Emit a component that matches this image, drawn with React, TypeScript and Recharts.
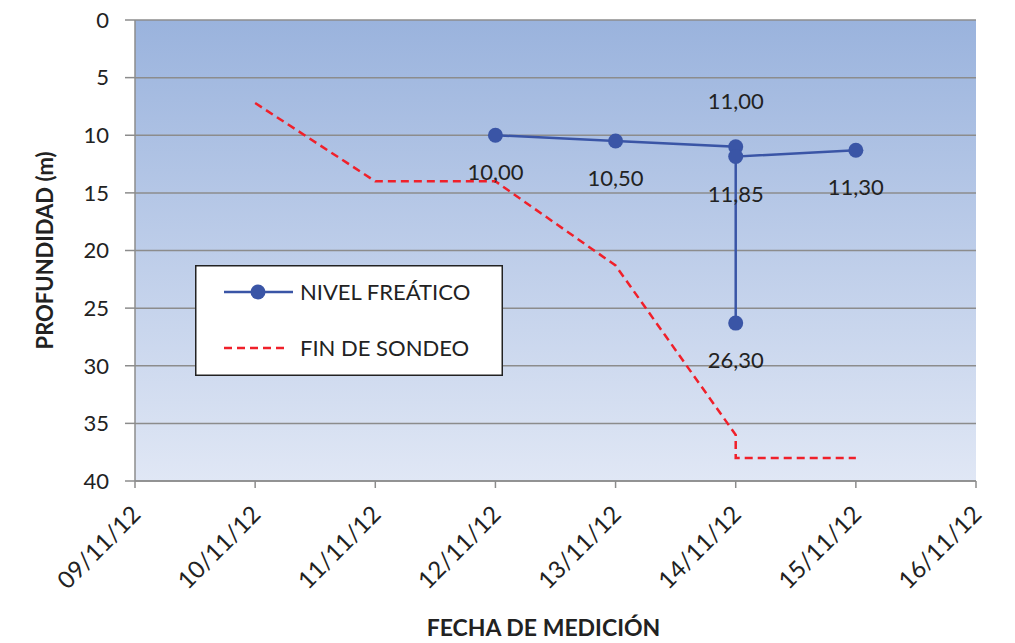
import React from 'react';
import { LineChart, Line, XAxis, YAxis, CartesianGrid, Legend, Label } from 'recharts';

// días de noviembre 2012
const diasEje = [9, 10, 11, 12, 13, 14, 15, 16];
const profundidadTicks = [0, 5, 10, 15, 20, 25, 30, 35, 40];

const fechaNivel = [12, 13, 14, 14, 14, 15];
const nivelFreatico = [10.0, 10.5, 11.0, 26.3, 11.85, 11.3];

const fechaSondeo = [10, 11, 12, 13, 14, 14, 15];
const finSondeo = [7.2, 14.0, 14.0, 21.3, 36.0, 38.0, 38.0];

const nivelData = fechaNivel.map((f, i) => ({ fecha: f, nivel: nivelFreatico[i] }));
const sondeoData = fechaSondeo.map((f, i) => ({ fecha: f, sondeo: finSondeo[i] }));

const FONT = 'Lato, "DejaVu Sans", sans-serif';
const AZUL = '#3A55A6';
const ROJO = '#F0202A';
const GRIS = '#8C8C8C';

const fmtFecha = (d: number) => `${String(d).padStart(2, '0')}/11/12`;

const XTick = (props: any) => {
    const { x, y, payload } = props;
    const ax = x + 7;
    const ay = y + 24;
    return (
        <text
            x={ax}
            y={ay}
            transform={`rotate(-45, ${ax}, ${ay})`}
            textAnchor="end"
            fontSize={24}
            fontFamily={FONT}
            fill="#222"
        >
            {fmtFecha(payload.value)}
        </text>
    );
};

const NivelLabel = (props: any) => {
    const { x, y, value, index } = props;
    const arriba = index === 2;
    return (
        <text
            x={x}
            y={arriba ? y - 38 : y + 45}
            textAnchor="middle"
            fontSize={22}
            fontFamily={FONT}
            fill="#222"
        >
            {Number(value).toFixed(2).replace('.', ',')}
        </text>
    );
};

const Leyenda = () => (
    <svg width={308} height={111} style={{ display: 'block' }}>
        <rect x={0.75} y={0.75} width={306.5} height={109.5} fill="#fff" stroke="#222" strokeWidth={1.5} />
        <line x1={29} y1={27} x2={98} y2={27} stroke={AZUL} strokeWidth={2.5} />
        <circle cx={63} cy={27} r={7.5} fill={AZUL} />
        <text x={105} y={35} fontSize={22} fontFamily={FONT} fill="#222">NIVEL FREÁTICO</text>
        <line x1={29} y1={83} x2={94} y2={83} stroke={ROJO} strokeWidth={2.5} strokeDasharray="8 5" />
        <text x={105} y={91} fontSize={22} fontFamily={FONT} fill="#222">FIN DE SONDEO</text>
    </svg>
);

const App: React.FC = () => {
    return (
        <div style={{ width: 1000, height: 635, fontFamily: FONT }}>
            <LineChart width={1000} height={635} margin={{ top: 12, right: 32, left: 0, bottom: 0 }}>
                <defs>
                    <linearGradient id="fondo" x1="0" y1="0" x2="0" y2="1">
                        <stop offset="0%" stopColor="#9AB3DD" />
                        <stop offset="100%" stopColor="#E0E7F5" />
                    </linearGradient>
                </defs>
                <CartesianGrid vertical={false} stroke={GRIS} strokeWidth={1.5} fill="url(#fondo)" fillOpacity={1} />
                <XAxis
                    type="number"
                    dataKey="fecha"
                    domain={[9, 16]}
                    ticks={diasEje}
                    interval={0}
                    height={162}
                    tick={<XTick />}
                    tickSize={7}
                    tickMargin={4}
                    stroke={GRIS}
                    axisLine={{ stroke: GRIS, strokeWidth: 1.5 }}
                    tickLine={{ stroke: GRIS, strokeWidth: 1.5 }}
                >
                    <Label
                        value="FECHA DE MEDICIÓN"
                        position="insideBottom"
                        offset={7}
                        dx={-12}
                        style={{ fontSize: 23, fontWeight: 700, fontFamily: FONT, fill: '#222' }}
                    />
                </XAxis>
                <YAxis
                    type="number"
                    reversed
                    domain={[0, 40]}
                    ticks={profundidadTicks}
                    interval={0}
                    width={127}
                    tickSize={10}
                    tickMargin={16}
                    tick={{ fontSize: 22, fontFamily: FONT, fill: '#222' }}
                    axisLine={{ stroke: GRIS, strokeWidth: 1.5 }}
                    tickLine={{ stroke: GRIS, strokeWidth: 1.5 }}
                >
                    <Label
                        value="PROFUNDIDAD (m)"
                        angle={-90}
                        position="insideLeft"
                        offset={37}
                        style={{ textAnchor: 'middle', fontSize: 22, fontWeight: 700, fontFamily: FONT, fill: '#222' }}
                    />
                </YAxis>
                <Legend
                    content={<Leyenda />}
                    layout="vertical"
                    align="center"
                    verticalAlign="middle"
                    wrapperStyle={{ position: 'absolute', left: 187, top: 257, width: 308, height: 111 }}
                />
                <Line
                    data={sondeoData}
                    dataKey="sondeo"
                    name="FIN DE SONDEO"
                    type="linear"
                    stroke={ROJO}
                    strokeWidth={2.5}
                    strokeDasharray="8 5"
                    dot={false}
                    activeDot={false}
                    isAnimationActive={false}
                />
                <Line
                    data={nivelData}
                    dataKey="nivel"
                    name="NIVEL FREÁTICO"
                    type="linear"
                    stroke={AZUL}
                    strokeWidth={2.5}
                    dot={{ r: 7.5, fill: AZUL, stroke: AZUL, strokeWidth: 0 }}
                    activeDot={false}
                    label={<NivelLabel />}
                    isAnimationActive={false}
                />
            </LineChart>
        </div>
    );
};

export default App;
